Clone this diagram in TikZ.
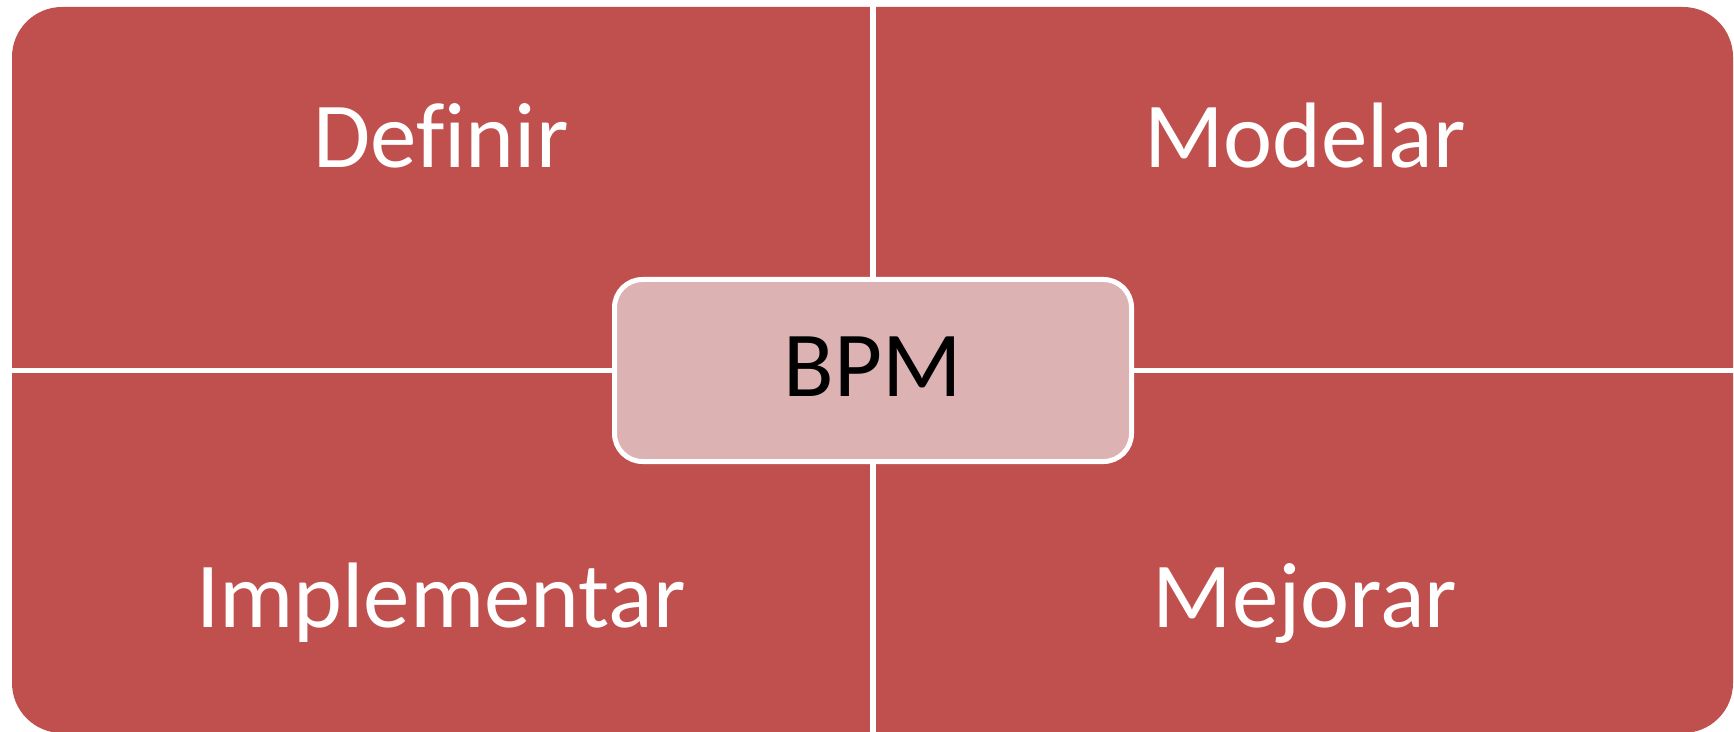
\documentclass[tikz,border=0pt]{standalone}
\usepackage{fontspec}
\setmainfont{Carlito}[Ligatures=NoCommon]
\definecolor{quadred}{HTML}{C0504D}
\definecolor{centerpink}{HTML}{DCB2B2}
\begin{document}
\begin{tikzpicture}[x=0.5pt,y=-0.5pt,
  quadlabel/.style={text=white,font=\fontsize{46.5}{56}\selectfont,anchor=base,inner sep=0pt},
  centerbox/.style={draw=white,line width=2.5pt,fill=centerpink,rounded corners=14pt,
    minimum width=258.5pt,minimum height=91pt,inner sep=0pt,text depth=3.5pt,
    font=\fontsize{46.5}{56}\selectfont,text=black},
  divider/.style={draw=white,line width=2.75pt}]
\useasboundingbox (0,0) rectangle (1734,732);
\fill[white] (0,0) rectangle (1734,732);
\begin{scope}
  \clip (0,0) rectangle (1734,732);
  \fill[quadred,rounded corners=25pt] (12,7) rectangle (1733,733);
\end{scope}
\coordinate (topend) at (873,0);
\coordinate (bottomend) at (873,732);
\coordinate (leftend) at (0,370.5);
\coordinate (rightend) at (1734,370.5);
\draw[divider] (topend) -- (bottomend);
\draw[divider] (leftend) -- (rightend);
\node[centerbox] (bpm) at (873,370.5) {BPM};
\node[quadlabel] (definir) at (441,168) {Definir};
\node[quadlabel] (modelar) at (1305,168) {Modelar};
\node[quadlabel] (implementar) at (441,627) {Implementar};
\node[quadlabel] (mejorar) at (1305,627) {Mejorar};
\end{tikzpicture}
\end{document}
